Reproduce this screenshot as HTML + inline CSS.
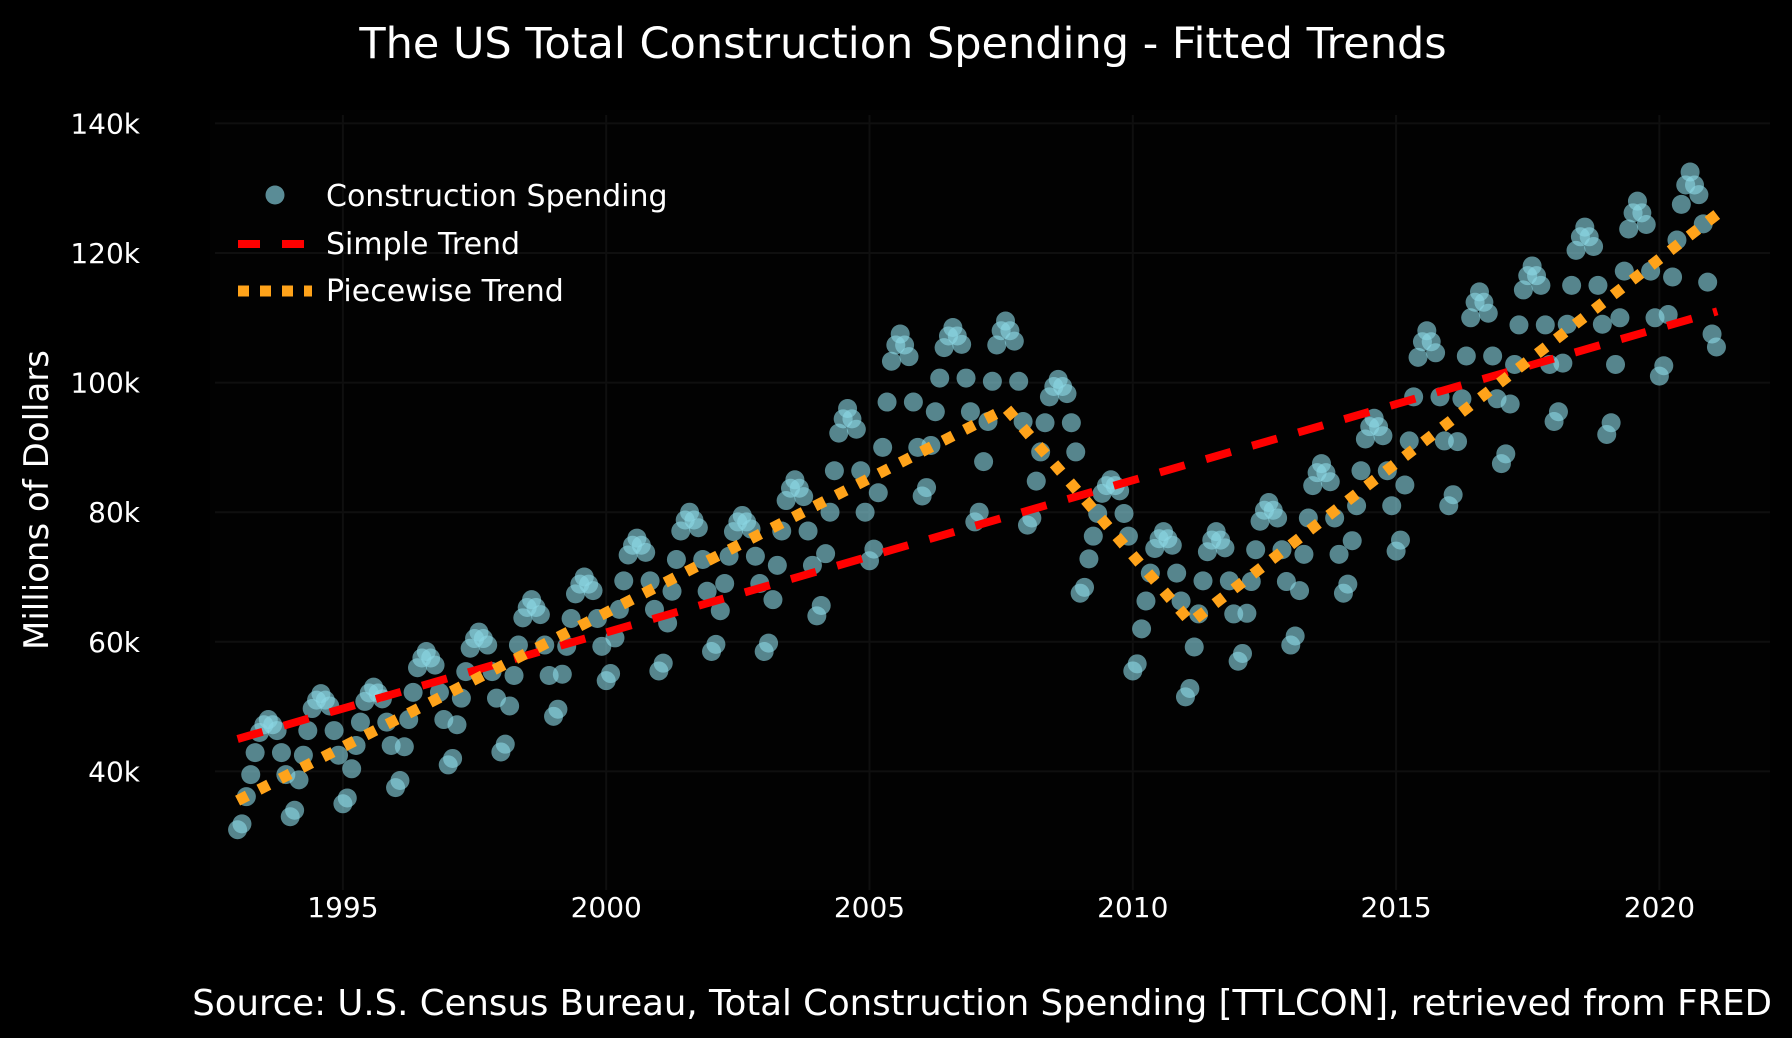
<!DOCTYPE html>
<html><head><meta charset="utf-8"><style>
html,body{margin:0;padding:0;background:#000;}
svg{display:block;font-family:"DejaVu Sans","Liberation Sans",sans-serif;}
</style></head><body>
<svg id="chart" width="1792" height="1038" viewBox="0 0 1792 1038">
<rect x="0" y="0" width="1792" height="1038" fill="#000"/>
<rect x="210" y="110" width="1560" height="780" fill="#020202"/>
<text x="903" y="58" fill="#fff" font-size="43" text-anchor="middle">The US Total Construction Spending - Fitted Trends</text>
<text transform="translate(48,500) rotate(-90)" fill="#fff" font-size="34" text-anchor="middle">Millions of Dollars</text>
<text x="1772" y="1015" fill="#fff" font-size="35.5" text-anchor="end">Source: U.S. Census Bureau, Total Construction Spending [TTLCON], retrieved from FRED</text>
<g id="grid"></g>
<g id="ticks"></g>
<g id="dots"></g>
<g id="lines"></g>
<g>
<circle cx="275" cy="195" r="9.5" fill="#5a8c96"/>
<text x="326" y="206" fill="#fff" font-size="30">Construction Spending</text>
<line x1="238" y1="244" x2="312" y2="244" stroke="#ff0000" stroke-width="8" stroke-dasharray="22,22"/>
<text x="326" y="254" fill="#fff" font-size="30">Simple Trend</text>
<line x1="238" y1="291" x2="312" y2="291" stroke="#ffa31a" stroke-width="11" stroke-dasharray="11,11"/>
<text x="326" y="301" fill="#fff" font-size="30">Piecewise Trend</text>
</g>
</svg>
<script>
const startYear = 1993;
const monthlyValues = [
31,31.9,36.1,39.5,42.9,46,47.2,48,47.2,46.3,42.9,39.5,
33,34,38.7,42.5,46.3,49.7,51,52,51,50.1,46.3,42.5,
35,35.9,40.4,44,47.6,50.8,52.1,53,52.1,51.2,47.6,44,
37.5,38.6,43.8,48,52.2,56,57.5,58.5,57.5,56.4,52.2,48,
41,42,47.2,51.3,55.4,59,60.5,61.5,60.5,59.5,55.4,51.3,
43,44.2,50.1,54.8,59.5,63.7,65.3,66.5,65.3,64.2,59.5,54.8,
48.5,49.6,55,59.3,63.6,67.4,68.9,70,68.9,67.9,63.6,59.3,
54,55.1,60.6,65,69.4,73.4,74.9,76,74.9,73.8,69.4,65,
55.5,56.7,62.9,67.8,72.7,77.1,78.8,80,78.8,77.6,72.7,67.8,
58.5,59.6,64.8,69,73.2,77,78.5,79.5,78.5,77.4,73.2,69,
58.5,59.8,66.5,71.8,77.1,81.8,83.7,85,83.7,82.4,77.1,71.8,
64,65.6,73.6,80,86.4,92.2,94.4,96,94.4,92.8,86.4,80,
72.5,74.3,83,90,97,103.3,105.8,107.5,105.8,104,97,90,
82.5,83.8,90.3,95.5,100.7,105.4,107.2,108.5,107.2,105.9,100.7,95.5,
78.5,80,87.8,94,100.2,105.8,108,109.5,108,106.4,100.2,94,
78,79.1,84.8,89.3,93.8,97.8,99.4,100.5,99.4,98.3,93.8,89.3,
67.5,68.4,72.8,76.3,79.8,82.9,84.1,85,84.1,83.3,79.8,76.3,
55.5,56.6,62,66.3,70.6,74.4,75.9,77,75.9,74.9,70.6,66.3,
51.5,52.8,59.2,64.3,69.4,73.9,75.7,77,75.7,74.5,69.4,64.3,
57,58.2,64.4,69.3,74.2,78.6,80.3,81.5,80.3,79.1,74.2,69.3,
59.5,60.9,67.9,73.5,79.1,84.1,86.1,87.5,86.1,84.7,79.1,73.5,
67.5,68.9,75.6,81,86.4,91.3,93.2,94.5,93.2,91.8,86.4,81,
74,75.7,84.2,91,97.8,103.9,106.3,108,106.3,104.6,97.8,91,
81,82.7,90.9,97.5,104.1,110,112.4,114,112.4,110.7,104.1,97.5,
87.5,89,96.7,102.8,108.9,114.3,116.5,118,116.5,115,108.9,102.8,
94,95.5,103,109,115,120.4,122.5,124,122.5,121,115,109,
92,93.8,102.8,110,117.2,123.7,126.2,128,126.2,124.4,117.2,110,
101,102.6,110.5,116.3,122,127.5,130.5,132.5,130.5,129,124.5,115.5,
107.5,105.5
];
const simpleYears = [1993.0, 2021.1];
const simpleValues = [45, 111];
const piecewiseYears = [1993.0, 2007.6, 2011.1, 2021.1];
const piecewiseValues = [35.5, 96, 63, 126];
const xTicks = [1995, 2000, 2005, 2010, 2015, 2020];
const yTicks = [40, 60, 80, 100, 120, 140];
const yTickLabels = ["40k","60k","80k","100k","120k","140k"];

const NS = "http://www.w3.org/2000/svg";
function xs(yr){ return 342.9 + (yr - 1995) * 52.66; }
function ys(v){ return 771.4 - (v - 40) * 6.48; }
function mk(tag, attrs, parent){ const e = document.createElementNS(NS, tag); for (const k in attrs) e.setAttribute(k, attrs[k]); parent.appendChild(e); return e; }

const grid = document.getElementById('grid');
const ticks = document.getElementById('ticks');
xTicks.forEach(t => {
  const l = mk('line', {x1: xs(t), x2: xs(t), y1: 115, y2: 890, stroke: '#0f0f0f', 'stroke-width': 2}, grid);
  
  
  const tx = mk('text', {x: xs(t), y: 917, fill: '#fff', 'font-size': 28, 'text-anchor': 'middle'}, ticks);
  tx.textContent = t;
  
  
});
yTicks.forEach((t, i) => {
  const l = mk('line', {x1: 215, x2: 1770, y1: ys(t), y2: ys(t), stroke: '#0f0f0f', 'stroke-width': 2}, grid);
  
  
  const tx = mk('text', {x: 140, y: ys(t) + 10, fill: '#fff', 'font-size': 28, 'text-anchor': 'end'}, ticks);
  tx.textContent = yTickLabels[i];
  
  
});

const dots = document.getElementById('dots');
monthlyValues.forEach((v, i) => {
  const yr = startYear + i / 12;
  const c = mk('circle', {cx: xs(yr), cy: ys(v), r: 9.5, fill: '#8ad6e4', 'fill-opacity': 0.62}, dots);
  
  
});

const lines = document.getElementById('lines');
function pathFrom(xa, va){ return xa.map((x, i) => (i ? 'L' : 'M') + xs(x).toFixed(1) + ',' + ys(va[i]).toFixed(1)).join(' '); }
const sp = mk('path', {d: pathFrom(simpleYears, simpleValues), stroke: '#ff0000', 'stroke-width': 8, fill: 'none', 'stroke-dasharray': '26,22'}, lines);


const pp = mk('path', {d: pathFrom(piecewiseYears, piecewiseValues), stroke: '#ffa31a', 'stroke-width': 11, fill: 'none', 'stroke-dasharray': '11,13'}, lines);


</script>
</body></html>
